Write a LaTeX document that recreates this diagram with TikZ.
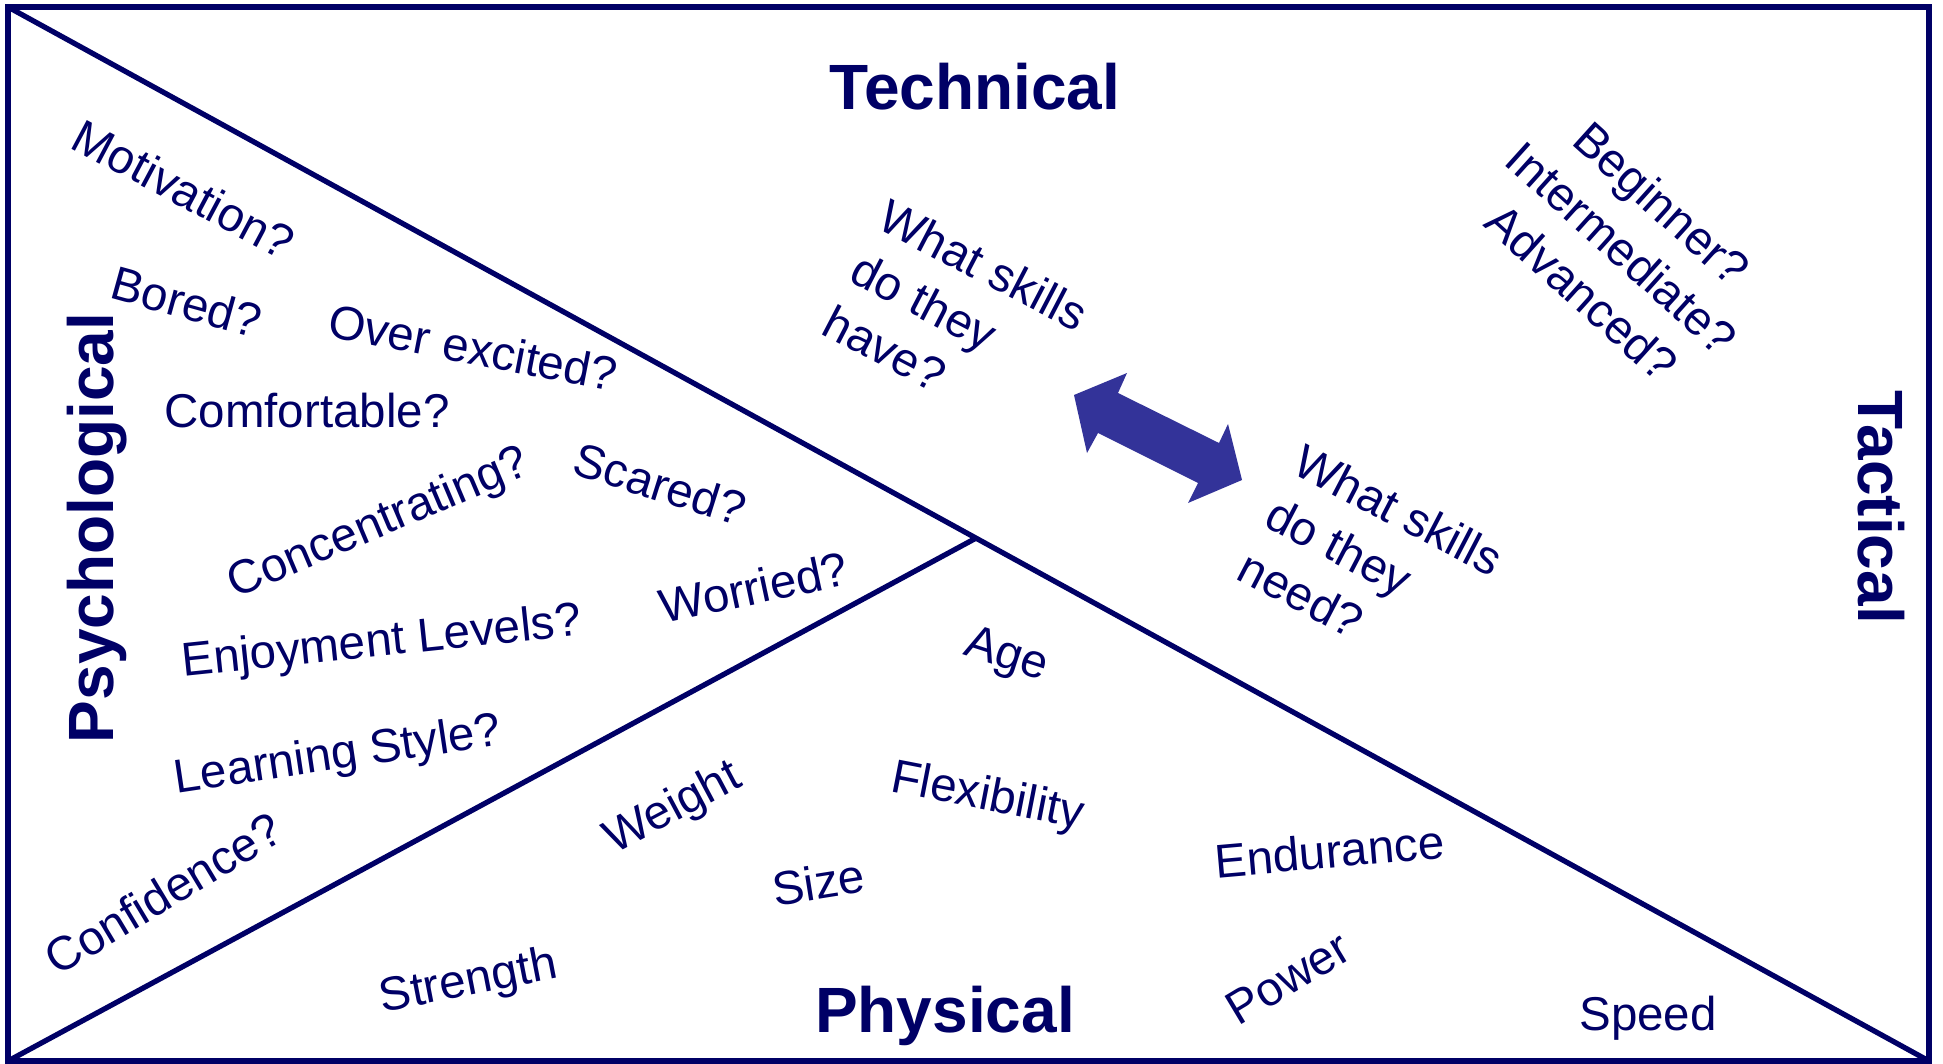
\documentclass[tikz,border=0pt]{standalone}
\usepackage{fontspec}
\setmainfont{Liberation Sans}
\usetikzlibrary{calc}
\definecolor{navy}{RGB}{0,0,102}
\definecolor{arrowblue}{RGB}{51,51,153}
\begin{document}
\begin{tikzpicture}[x=0.01cm,y=-0.01cm,
  lbl/.style={text=navy, font=\fontsize{13.5}{17}\selectfont, inner sep=0pt, outer sep=0pt},
  head/.style={text=navy, font=\fontsize{18.2}{21}\selectfont\bfseries, inner sep=0pt, outer sep=0pt},
  border/.style={draw=navy, line width=1.6pt},
  divider/.style={draw=navy, line width=1.5pt},
  blockarrow/.style={fill=arrowblue}]
\useasboundingbox (0,0) rectangle (1943,1064);
\fill[white] (0,0) rectangle (1943,1064);
% frame and dividers
\coordinate (TL) at (8,7);
\coordinate (TR) at (1929,7);
\coordinate (BR) at (1929,1061);
\coordinate (BL) at (8,1061);
\coordinate (J) at ($(TL)!0.5039!(BR)$);
\draw[border] (TL) rectangle (BR);
\draw[divider] (TL) -- (BR);
\draw[divider] (BL) -- (J);
% headings
\node[head, anchor=base] (tech) at (975,110) {Technical};
\node[head, anchor=base] (phys) at (945,1032) {Physical};
\node[head, anchor=base, rotate=90] (psych) at (113,528) {Psychological};
\node[head, anchor=base, rotate=-90] (tact) at (1858,507) {Tactical};
% psychological
\node[lbl, anchor=base, rotate=-28] (motiv) at (176,204) {Motivation?};
\node[lbl, anchor=base, rotate=-15.5] (bored) at (182,318) {Bored?};
\node[lbl, anchor=base, rotate=-11] (overex) at (470,364) {Over excited?};
\node[lbl, anchor=base] (comf) at (307,427) {Comfortable?};
\node[lbl, anchor=base, rotate=23] (conc) at (384,536) {Concentrating?};
\node[lbl, anchor=base, rotate=-17.5] (scared) at (655,500) {Scared?};
\node[lbl, anchor=base, rotate=12] (worried) at (757,604) {Worried?};
\node[lbl, anchor=base, rotate=6] (enjoy) at (383,656) {Enjoyment Levels?};
\node[lbl, anchor=base, rotate=8.5] (learn) at (340,769) {Learning Style?};
\node[lbl, anchor=base, rotate=31] (conf) at (172,908) {Confidence?};
% physical
\node[lbl, anchor=base, rotate=11] (strength) at (471,995) {Strength};
\node[lbl, anchor=base, rotate=28] (weight) at (679,820) {Weight};
\node[lbl, anchor=base, rotate=9] (size) at (821,899) {Size};
\node[lbl, anchor=base, rotate=-11] (flex) at (985,810) {Flexibility};
\node[lbl, anchor=center, rotate=-18] (age) at (1006,657) {Age};
\node[lbl, anchor=base, rotate=5] (endur) at (1331,868) {Endurance};
\node[lbl, anchor=base, rotate=31] (power) at (1296,992) {Power};
\node[lbl, anchor=base] (speed) at (1648,1030) {Speed};
% technical / tactical
\node[lbl, anchor=north west, rotate=-27.5, align=left] (have) at (891,197) {What skills\\do they\\have?};
\node[lbl, anchor=north west, rotate=-27.5, align=left] (need) at (1306,442) {What skills\\do they\\need?};
\node[lbl, anchor=center, rotate=-42, align=center] (level) at (1622,248) {Beginner?\\Intermediate?\\Advanced?};
% double block arrow
\fill[blockarrow] (1074,395) -- (1127,373) -- (1118,393) -- (1219,443) -- (1228,424)
  -- (1242,480) -- (1188,503) -- (1198,483) -- (1098,433) -- (1087,453) -- cycle;
\end{tikzpicture}
\end{document}
